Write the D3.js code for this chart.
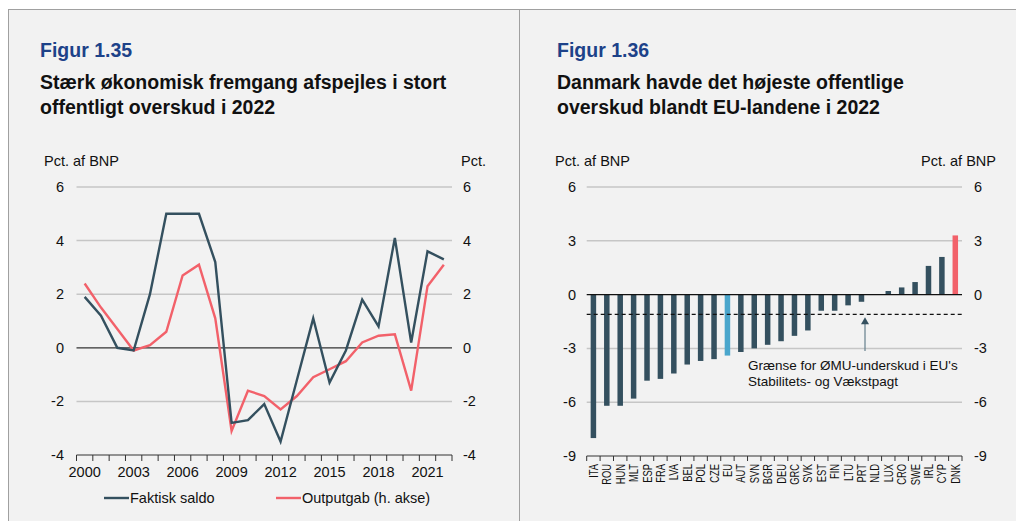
<!DOCTYPE html>
<html>
<head>
<meta charset="utf-8">
<script src="https://cdn.jsdelivr.net/npm/d3@7"></script>
<style>
  body { margin: 0; background: #fff; font-family: "Liberation Sans", Arial, sans-serif; }
  svg text { font-family: "Liberation Sans", Arial, sans-serif; }
</style>
</head>
<body>
<script>
// data
const years = d3.range(2000, 2023);
const saldo = [1.9, 1.2, 0.0, -0.1, 2.0, 5.0, 5.0, 5.0, 3.2, -2.8, -2.7, -2.1, -3.5, -1.2, 1.1, -1.3, -0.1, 1.8, 0.8, 4.1, 0.2, 3.6, 3.3];
const outputgab = [2.4, 1.5, 0.7, -0.1, 0.1, 0.6, 2.7, 3.1, 1.1, -3.1, -1.6, -1.8, -2.3, -1.8, -1.1, -0.8, -0.5, 0.2, 0.45, 0.5, -1.6, 2.3, 3.1];
const leftTicks = [-4, -2, 0, 2, 4, 6];

const countries = ["ITA", "ROU", "HUN", "MLT", "ESP", "FRA", "LVA", "BEL", "POL", "CZE", "EU", "AUT", "SVN", "BGR", "DEU", "GRC", "SVK", "EST", "FIN", "LTU", "PRT", "NLD", "LUX", "CRO", "SWE", "IRL", "CYP", "DNK"];
const balance = [-8.0, -6.2, -6.2, -5.8, -4.8, -4.7, -4.4, -3.9, -3.7, -3.6, -3.4, -3.2, -3.0, -2.8, -2.6, -2.3, -2.0, -0.9, -0.9, -0.6, -0.4, 0.0, 0.2, 0.4, 0.7, 1.6, 2.1, 3.3];
const rightTicks = [-9, -6, -3, 0, 3, 6];
const limitLine = -1.1;

const dark = "#34505f", red = "#f2616a", blue = "#4aa6cc";
const grid = "#c6c6c6", axisCol = "#333";
const fs = 14.5;

const svg = d3.select("body").append("svg")
    .attr("width", 1016)
    .attr("height", 521);

// panel backgrounds and borders
svg.append("rect").attr("x", 9).attr("y", 9).attr("width", 1007).attr("height", 512).attr("fill", "#f2f2f2");
svg.append("line").attr("x1", 9).attr("x2", 1016).attr("y1", 9.5).attr("y2", 9.5).attr("stroke", "#a0a0a0");
svg.append("line").attr("x1", 8.5).attr("x2", 8.5).attr("y1", 9).attr("y2", 521).attr("stroke", "#a0a0a0");
svg.append("line").attr("x1", 519.5).attr("x2", 519.5).attr("y1", 9).attr("y2", 521).attr("stroke", "#a0a0a0");

function titles(x, fig, lines) {
    svg.append("text").attr("x", x).attr("y", 57)
        .attr("font-size", 19.5).attr("font-weight", "bold").attr("fill", "#1d4289").text(fig);
    lines.forEach((t, i) => {
        svg.append("text").attr("x", x).attr("y", 89 + i * 25)
            .attr("font-size", 19.5).attr("font-weight", "bold").attr("fill", "#111").text(t);
    });
}
titles(40, "Figur 1.35", ["Stærk økonomisk fremgang afspejles i stort", "offentligt overskud i 2022"]);
titles(557, "Figur 1.36", ["Danmark havde det højeste offentlige", "overskud blandt EU-landene i 2022"]);

// ---------- left chart ----------
const x1 = d3.scaleBand().domain(years).range([76.5, 452]);
const y1 = d3.scaleLinear().domain([-4, 6]).range([455, 187]);
const g1 = svg.append("g");

leftTicks.forEach(v => {
    g1.append("line").attr("x1", 76.5).attr("x2", 452)
        .attr("y1", y1(v)).attr("y2", y1(v))
        .attr("stroke", v === 0 || v === -4 ? axisCol : grid)
        .attr("stroke-width", v === 0 || v === -4 ? 1.2 : 1.5);
    g1.append("text").attr("x", 64).attr("y", y1(v) + 5).attr("text-anchor", "end")
        .attr("font-size", fs).attr("fill", "#111").text(v);
    g1.append("text").attr("x", 463).attr("y", y1(v) + 5)
        .attr("font-size", fs).attr("fill", "#111").text(v);
});
g1.append("text").attr("x", 44).attr("y", 166).attr("font-size", fs).attr("fill", "#111").text("Pct. af BNP");
g1.append("text").attr("x", 461).attr("y", 166).attr("font-size", fs).attr("fill", "#111").text("Pct.");

// x ticks at band edges
years.concat([2023]).forEach((yr, i) => {
    const xx = 76.5 + i * x1.step();
    g1.append("line").attr("x1", xx).attr("x2", xx).attr("y1", 455).attr("y2", 461)
        .attr("stroke", axisCol).attr("stroke-width", 1);
});
years.filter(yr => (yr - 2000) % 3 === 0).forEach(yr => {
    g1.append("text").attr("x", x1(yr) + x1.bandwidth() / 2).attr("y", 477)
        .attr("text-anchor", "middle").attr("font-size", fs).attr("fill", "#111").text(yr);
});

const line1 = d3.line().x((d, i) => x1(years[i]) + x1.bandwidth() / 2).y(d => y1(d));
g1.append("path").datum(outputgab).attr("d", line1)
    .attr("fill", "none").attr("stroke", red).attr("stroke-width", 2.4);
g1.append("path").datum(saldo).attr("d", line1)
    .attr("fill", "none").attr("stroke", dark).attr("stroke-width", 2.4);

// legend
[[104, "Faktisk saldo", dark], [276, "Outputgab (h. akse)", red]].forEach(([lx, t, c]) => {
    g1.append("line").attr("x1", lx).attr("x2", lx + 25).attr("y1", 498).attr("y2", 498)
        .attr("stroke", c).attr("stroke-width", 2.4);
    g1.append("text").attr("x", lx + 26).attr("y", 503).attr("font-size", fs).attr("fill", "#111").text(t);
});

// ---------- right chart ----------
const x2 = d3.scaleBand().domain(countries).range([586.7, 962]);
const y2 = d3.scaleLinear().domain([-9, 6]).range([456, 187]);
const g2 = svg.append("g");

rightTicks.forEach(v => {
    if (v !== 0 && v !== -9) {
        g2.append("line").attr("x1", 586.7).attr("x2", 962)
            .attr("y1", y2(v)).attr("y2", y2(v)).attr("stroke", grid).attr("stroke-width", 1.5);
    }
    g2.append("text").attr("x", 576).attr("y", y2(v) + 5).attr("text-anchor", "end")
        .attr("font-size", fs).attr("fill", "#111").text(v);
    g2.append("text").attr("x", 974).attr("y", y2(v) + 5)
        .attr("font-size", fs).attr("fill", "#111").text(v);
});
g2.append("text").attr("x", 555).attr("y", 166).attr("font-size", fs).attr("fill", "#111").text("Pct. af BNP");
g2.append("text").attr("x", 996).attr("y", 166).attr("text-anchor", "end").attr("font-size", fs).attr("fill", "#111").text("Pct. af BNP");

const barW = 5.5;
g2.selectAll(".bar").data(countries).enter().append("rect")
    .attr("class", "bar")
    .attr("x", d => x2(d) + x2.bandwidth() / 2 - barW / 2)
    .attr("width", barW)
    .attr("y", (d, i) => y2(Math.max(0, balance[i])))
    .attr("height", (d, i) => Math.abs(y2(balance[i]) - y2(0)))
    .attr("fill", d => d === "EU" ? blue : d === "DNK" ? red : dark);

// zero line and bottom axis
g2.append("line").attr("x1", 586.7).attr("x2", 962).attr("y1", y2(0)).attr("y2", y2(0))
    .attr("stroke", "#111").attr("stroke-width", 1.3);
g2.append("line").attr("x1", 586.7).attr("x2", 962).attr("y1", y2(-9)).attr("y2", y2(-9))
    .attr("stroke", axisCol).attr("stroke-width", 1.2);
countries.concat(["end"]).forEach((c, i) => {
    const xx = 586.7 + i * x2.step();
    g2.append("line").attr("x1", xx).attr("x2", xx).attr("y1", y2(-9)).attr("y2", y2(-9) + 5)
        .attr("stroke", axisCol);
});
countries.forEach(c => {
    const cx = x2(c) + x2.bandwidth() / 2 + 4.5;
    g2.append("text").attr("transform", `translate(${cx},${y2(-9) + 8}) rotate(-90) scale(0.72,1)`)
        .attr("text-anchor", "end").attr("font-size", 13).attr("fill", "#111").text(c);
});

// limit line and annotation
g2.append("line").attr("x1", 586.7).attr("x2", 962).attr("y1", y2(limitLine)).attr("y2", y2(limitLine))
    .attr("stroke", "#111").attr("stroke-width", 1.2).attr("stroke-dasharray", "4,3");
const ax = 865;
g2.append("line").attr("x1", ax).attr("x2", ax).attr("y1", 351).attr("y2", y2(limitLine) + 9)
    .attr("stroke", "#6f8794").attr("stroke-width", 1.3);
g2.append("path").attr("d", `M${ax - 4},${y2(limitLine) + 10} L${ax},${y2(limitLine) + 3} L${ax + 4},${y2(limitLine) + 10} Z`)
    .attr("fill", dark);
g2.append("text").attr("x", 748).attr("y", 370).attr("font-size", 13.5).attr("fill", "#111").text("Grænse for ØMU-underskud i EU's");
g2.append("text").attr("x", 748).attr("y", 386).attr("font-size", 13.5).attr("fill", "#111").text("Stabilitets- og Vækstpagt");
</script>
</body>
</html>
